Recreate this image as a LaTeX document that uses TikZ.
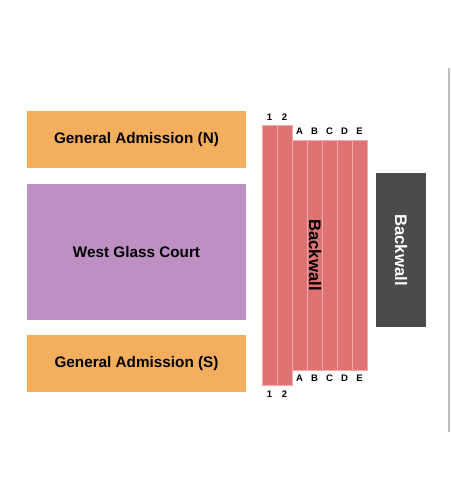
\documentclass[tikz,border=0pt]{standalone}
\usepackage{fontspec}
\setmainfont{Liberation Sans}
\usetikzlibrary{positioning}
\definecolor{gaorange}{HTML}{F3AE5E}
\definecolor{courtpurple}{HTML}{BD8FC3}
\definecolor{seatred}{HTML}{DF7373}
\definecolor{seatline}{HTML}{F4AAAA}
\definecolor{wallgray}{HTML}{4B4B4B}
\tikzset{
  gabox/.style={fill=gaorange, minimum width=4.38cm, minimum height=1.14cm, align=center, font=\fontsize{8.7}{10}\selectfont\bfseries},
  courtbox/.style={fill=courtpurple, minimum width=4.38cm, minimum height=2.72cm, align=center, font=\fontsize{8.7}{10}\selectfont\bfseries},
  seatrow/.style={fill=seatred, draw=seatline, line width=0.5pt, minimum width=0.30cm, inner sep=0pt},
  rowlabel/.style={font=\fontsize{5.4}{6}\selectfont\bfseries, inner sep=0pt},
  walltext/.style={rotate=-90, font=\fontsize{9.5}{11}\selectfont\bfseries},
  wallbox/.style={fill=wallgray, minimum width=1.00cm, minimum height=3.08cm, inner sep=0pt}
}

\begin{document}
\begin{tikzpicture}
      \useasboundingbox (0,0) rectangle (9,10);
      \node[gabox] (gan) at (2.73,7.21) {General Admission (N)};
      \node[courtbox] (court) at (2.73,4.96) {West Glass Court};
      \node[gabox] (gas) at (2.73,2.73) {General Admission (S)};
      % front rows
      \foreach \r/\x in {1/5.39, 2/5.69} {
        \node[seatrow, minimum height=5.20cm] (row\r) at (\x,4.90) {};
        \node[rowlabel] at (\x,7.66) {\r};
        \node[rowlabel] at (\x,2.12) {\r};
      }
      % back rows
      \foreach \r/\x in {A/5.99, B/6.29, C/6.59, D/6.89, E/7.19} {
        \node[seatrow, minimum height=4.60cm] (row\r) at (\x,4.90) {};
        \node[rowlabel] at (\x,7.38) {\r};
        \node[rowlabel] at (\x,2.44) {\r};
      }
      \node[walltext] (seatwall) at (6.30,4.90) {Backwall};
      \node[wallbox] (wall) at (8.02,5.00) {};
      \node[walltext, text=white] at (wall) {Backwall};
      \coordinate (edgetop) at (8.98,8.64);
      \coordinate (edgebot) at (8.98,1.36);
      \draw[black!25, line width=0.6pt] (edgetop) -- (edgebot);
    \end{tikzpicture}
\end{document}
